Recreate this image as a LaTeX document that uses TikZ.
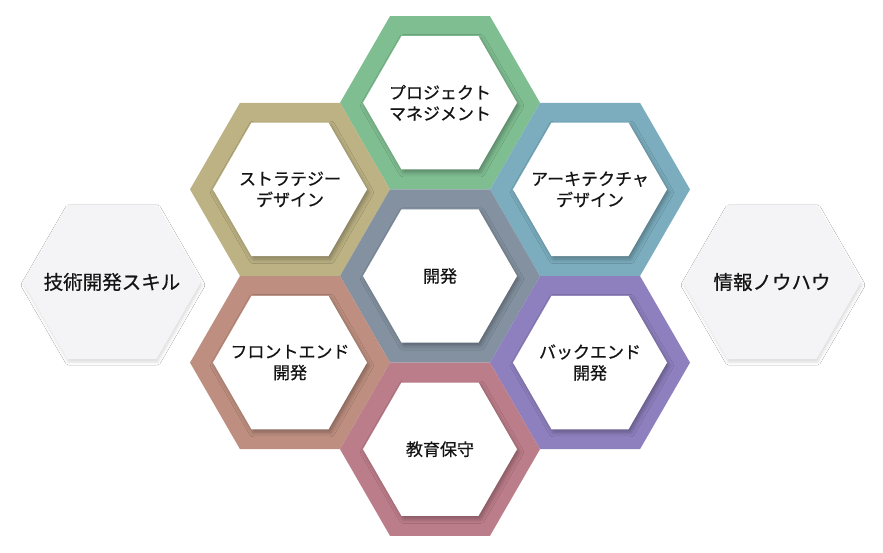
\documentclass[tikz,border=0pt]{standalone}
\usepackage{fontspec}
\newfontfamily\jpfont[FakeBold=0.6]{Noto Sans CJK JP}
\usetikzlibrary{shapes.geometric,shadows.blur}
\definecolor{cGreen}{HTML}{7FBE91}
\definecolor{cTan}{HTML}{BCB283}
\definecolor{cBlue}{HTML}{7BADBE}
\definecolor{cSlate}{HTML}{8391A0}
\definecolor{cBrown}{HTML}{BE8F80}
\definecolor{cPurple}{HTML}{8E80BE}
\definecolor{cPink}{HTML}{BC7D8A}
\definecolor{cGrayFill}{HTML}{F4F3F5}
\definecolor{cText}{HTML}{141414}
\begin{document}
\begin{tikzpicture}[x=1pt,y=-1pt,
  hexbase/.style={regular polygon, regular polygon sides=6, inner sep=0pt, outer sep=0pt},
  ring/.style={hexbase, minimum size=200pt, fill=#1},
  core/.style={hexbase, minimum size=154pt, fill=white,
    blur shadow={shadow xshift=2pt, shadow yshift=-3pt, shadow blur radius=4.5pt, shadow opacity=30}},
  sidehex/.style={hexbase, minimum size=178pt, fill=cGrayFill,
    blur shadow={shadow xshift=1pt, shadow yshift=-3pt, shadow blur radius=3pt, shadow opacity=14}},
  lbl/.style={inner sep=0pt, align=center, text=cText, font=\jpfont\fontsize{17}{21}\selectfont},
  sidelbl/.style={inner sep=0pt, align=center, text=cText, font=\jpfont\fontsize{19.5}{24}\selectfont}]
\useasboundingbox (0,0) rectangle (883,552);
\fill[white] (0,0) rectangle (883,552);

% side hexagons
\node[sidehex] (skill) at (112,282) {};
\node[sidehex] (know) at (772,282) {};
\node[sidelbl] (skillT) at (skill) {技術開発スキル};
\node[sidelbl] (knowT) at (know) {情報ノウハウ};

% coloured rings
\node[ring=cGreen]  (rPM)   at (440,102.8) {};
\node[ring=cTan]    (rST)   at (290,189.4) {};
\node[ring=cBlue]   (rAR)   at (590,189.4) {};
\node[ring=cSlate]  (rDEV)  at (440,276)   {};
\node[ring=cBrown]  (rFE)   at (290,362.6) {};
\node[ring=cPurple] (rBE)   at (590,362.6) {};
\node[ring=cPink]   (rED)   at (440,449.2) {};

% white cores
\node[core] (pm)  at (rPM)  {};
\node[core] (st)  at (rST)  {};
\node[core] (ar)  at (rAR)  {};
\node[core] (dev) at (rDEV) {};
\node[core] (fe)  at (rFE)  {};
\node[core] (be)  at (rBE)  {};
\node[core] (ed)  at (rED)  {};

% labels
\node[lbl] (pmT)  at (pm)  {プロジェクト\\マネジメント};
\node[lbl] (stT)  at (st)  {ストラテジー\\デザイン};
\node[lbl] (arT)  at (ar)  {アーキテクチャ\\デザイン};
\node[lbl] (devT) at (dev) {開発};
\node[lbl] (feT)  at (fe)  {フロントエンド\\開発};
\node[lbl] (beT)  at (be)  {バックエンド\\開発};
\node[lbl] (edT)  at (ed)  {教育保守};
\end{tikzpicture}
\end{document}
